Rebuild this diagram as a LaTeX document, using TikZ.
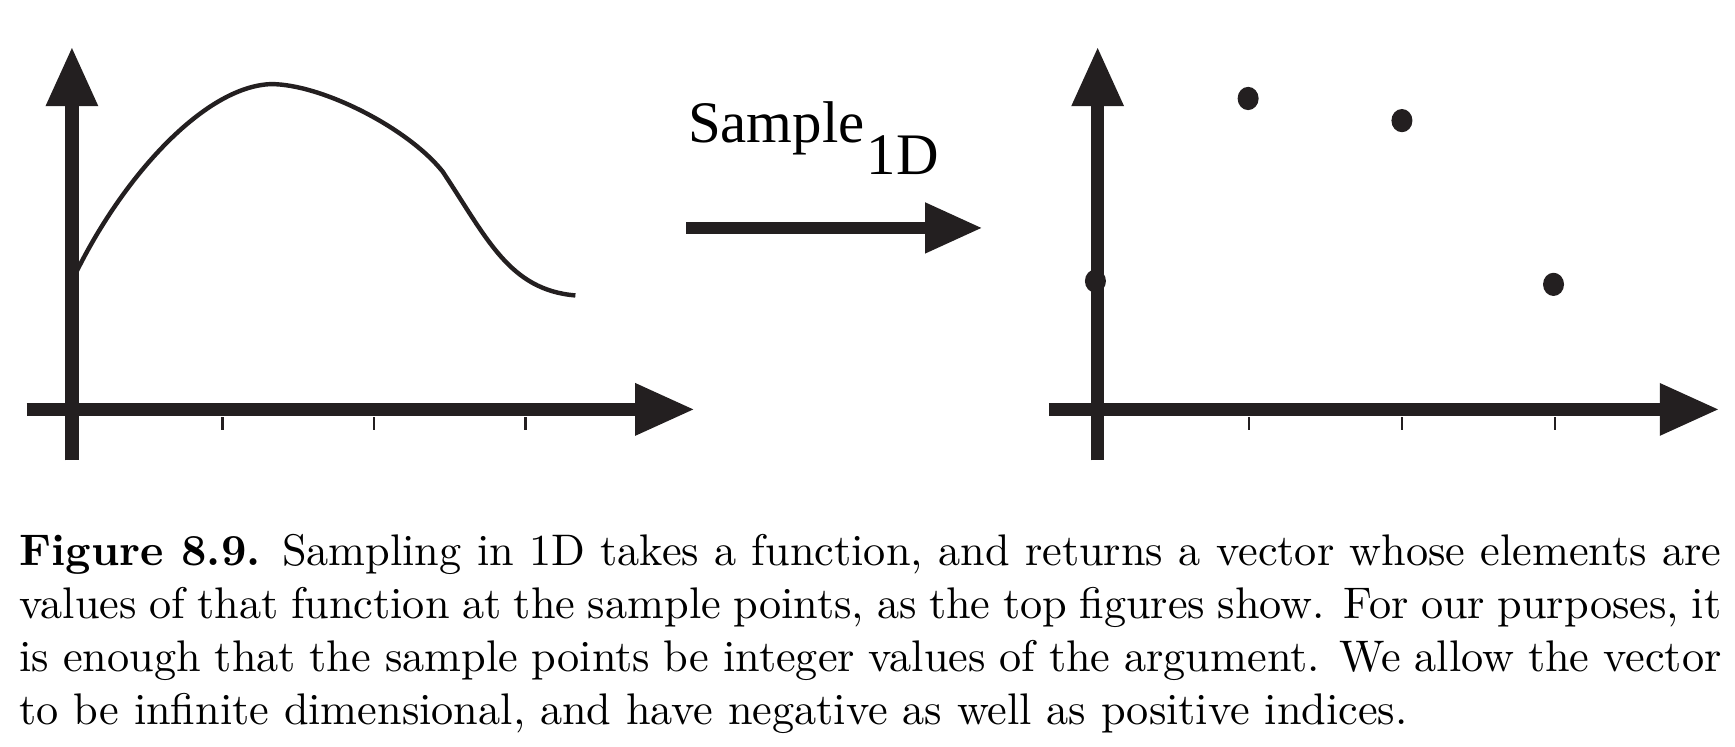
\documentclass[tikz,border=0pt]{standalone}
\usepackage{fontspec}
\usetikzlibrary{arrows.meta}
\newfontfamily\labelfont{Liberation Serif}
\definecolor{ink}{RGB}{35,31,32}
\tikzset{
  axis/.style={ink, line width=3pt, -{Triangle[length=13.5pt,width=11pt]}},
  tick/.style={ink, line width=0.5pt},
  dot/.style={ink, fill=ink},
}
\begin{document}
\begin{tikzpicture}[x=0.25pt,y=-0.25pt]
  \useasboundingbox (0,0) rectangle (1568,675);
  % function before sampling
  \draw [ink, line width=1pt] (66,252) .. controls (110,160) and (185,78) .. (245,76)
    .. controls (290,76) and (368,115) .. (400,155)
    .. controls (440,215) and (460,262) .. (520,267);
  \draw [axis] (65,416) -- (65,42);
  \draw [axis] (24,370) -- (628,370);
  \foreach \x in {201,338,475}
    \draw [tick] (\x,377) -- (\x,389);
  % the sampling map
  \node [anchor=base west, inner sep=0, font=\labelfont\fontsize{13.3}{16}\selectfont] (sample) at (621,129) {Sample\hspace{0.5pt}\raisebox{-7.25pt}{1D}};
  \coordinate (mapfrom) at (620,206);
  \coordinate (mapto) at (888,206);
  \draw [ink, line width=2.75pt, -{Triangle[length=13pt,width=10.75pt]}] (mapfrom) -- (mapto);
  % sampled vector
  \draw [axis] (992,416) -- (992,42);
  \draw [axis] (948,370) -- (1554,370);
  \foreach \x in {1129,1267,1405}
    \draw [tick] (\x,377) -- (\x,389);
  \foreach \x/\y in {990/254,1128/89,1267/109,1404/257}
    \fill [dot] (\x,\y) ellipse (9.5 and 10.5);
  % caption
  \node [anchor=north west, inner sep=0, text width=384.5pt, align=justify, font=\fontsize{10}{12}\selectfont] (caption) at (17,482) {\textbf{Figure 8.9.} Sampling in 1D takes a function, and returns a vector whose elements are values of that function at the sample points, as the top figures show. For our purposes, it is enough that the sample points be integer values of the argument. We allow the vector to be infinite dimensional, and have negative as well as positive indices.};
\end{tikzpicture}
\end{document}
